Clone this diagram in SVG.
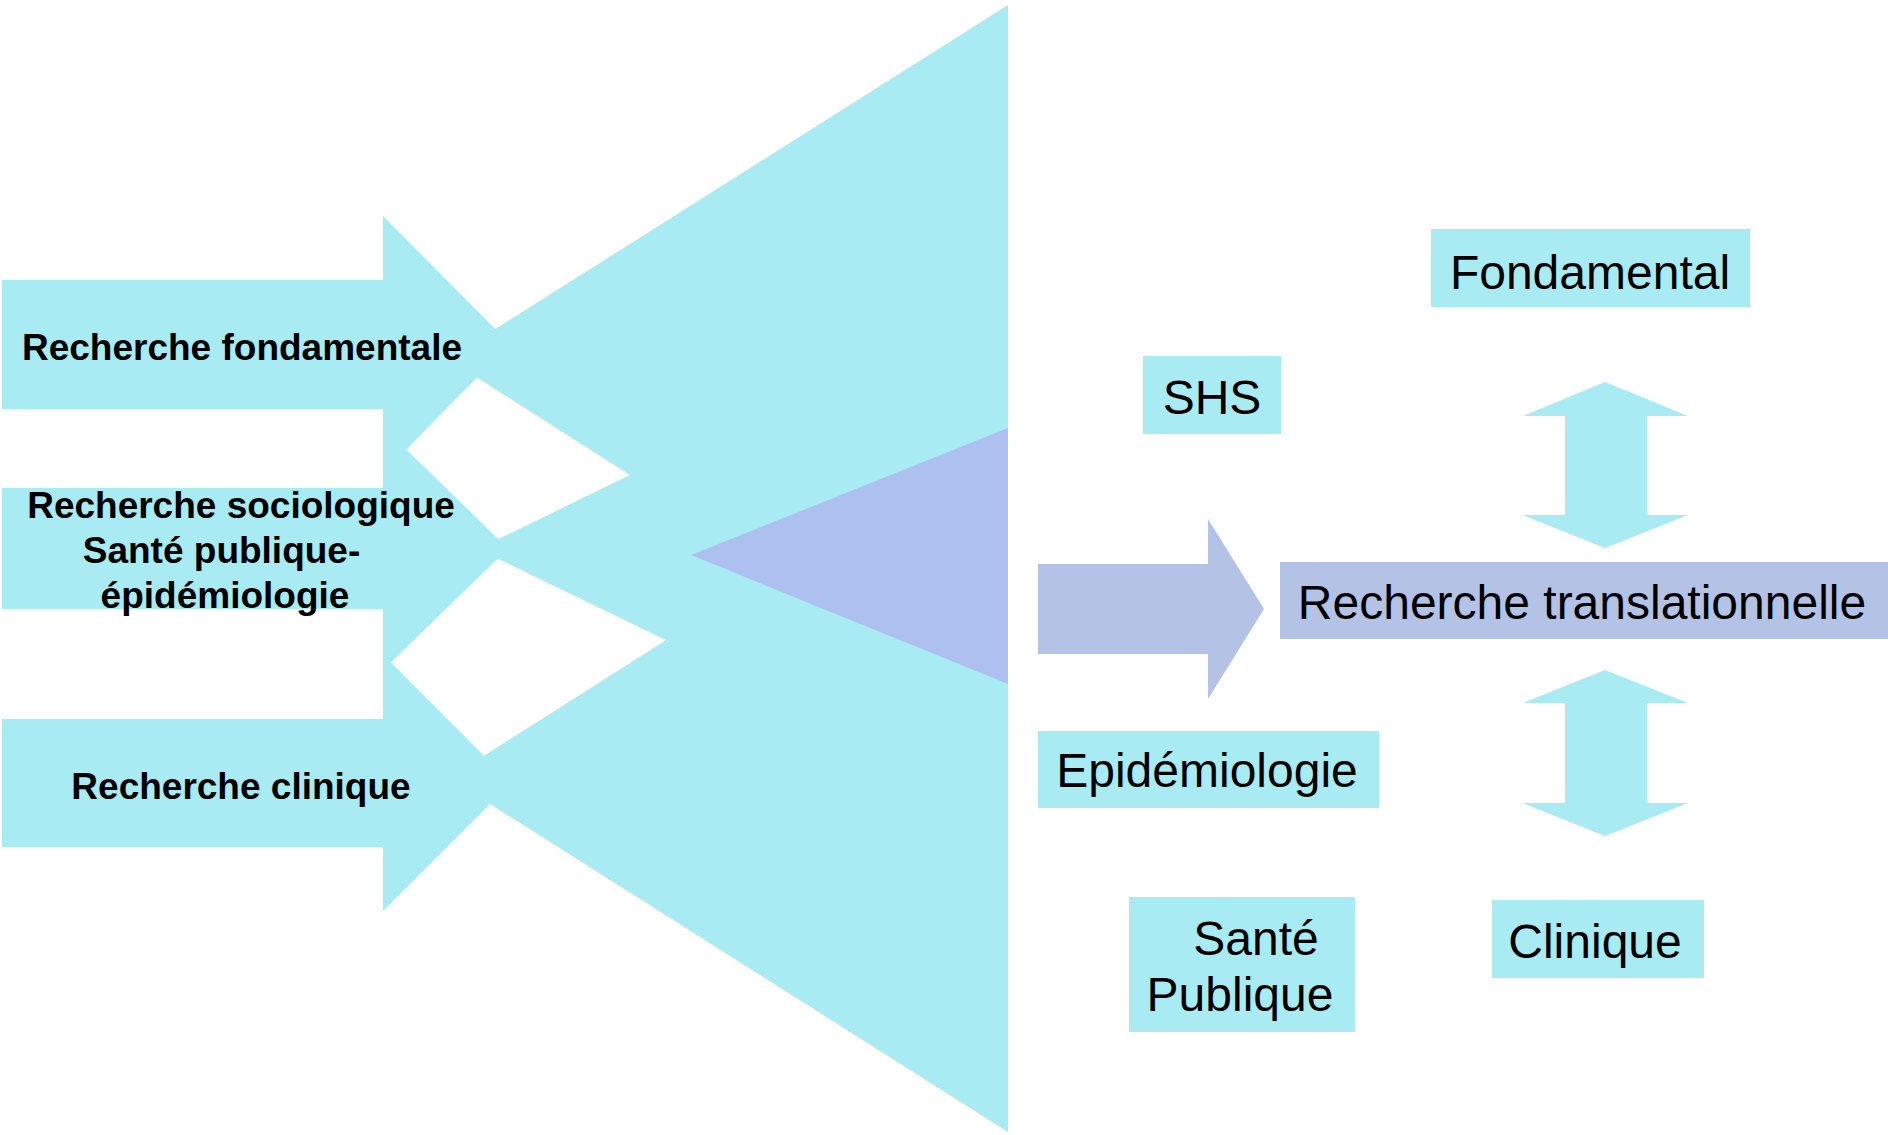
<svg xmlns="http://www.w3.org/2000/svg" width="1888" height="1135" viewBox="0 0 1888 1135">
<style>
.c{fill:#A8EBF3}
.p{fill:#ADC0F0}
.pb{fill:#B4C2E6}
.lb{font-family:"Liberation Sans",Arial,sans-serif;font-weight:bold;font-size:37px;fill:#000;text-anchor:middle}
.rt{font-family:"Liberation Sans",Arial,sans-serif;font-size:48px;fill:#000;text-anchor:middle}
</style>
<rect width="1888" height="1135" fill="#fff"/>
<g id="funnel">
<polygon class="c" points="448,359 1008,5 1008,716"/>
<polygon class="c" points="478,549 1008,291 1008,806"/>
<polygon class="c" points="449,778 1008,423 1008,1132"/>
<polygon class="p" points="691,555 1008,428 1008,684"/>
</g>
<g id="arrow-fondamentale">
<polygon class="c" points="2,280 383,280 383,216 510,344 383,473 383,409 2,409"/>
<text class="lb" x="242" y="360">Recherche fondamentale</text>
</g>
<g id="arrow-sociologique">
<polygon class="c" points="2,488 383,488 383,427 508,548.5 383,670 383,609 2,609"/>
<text class="lb" x="241" y="518">Recherche sociologique</text>
<text class="lb" x="221.5" y="563">Santé publique-</text>
<text class="lb" x="225" y="608">épidémiologie</text>
</g>
<g id="arrow-clinique">
<polygon class="c" points="2,719 383,719 383,654.5 511,783 383,911 383,847 2,847"/>
<text class="lb" x="241" y="799">Recherche clinique</text>
</g>
<g id="node-fondamental">
<rect class="c" x="1431" y="229" width="319" height="78"/>
<text class="rt" x="1590" y="289">Fondamental</text>
</g>
<g id="node-shs">
<rect class="c" x="1143" y="356" width="138" height="78"/>
<text class="rt" x="1212" y="414">SHS</text>
</g>
<g id="node-translationnelle">
<rect class="pb" x="1280" y="562" width="608" height="77"/>
<text class="rt" x="1582" y="619">Recherche translationnelle</text>
</g>
<g id="node-epidemiologie">
<rect class="c" x="1038" y="731" width="341" height="77"/>
<text class="rt" x="1207" y="787">Epidémiologie</text>
</g>
<g id="node-sante-publique">
<rect class="c" x="1129" y="897" width="226" height="135"/>
<text class="rt" x="1256" y="955">Santé</text>
<text class="rt" x="1240" y="1011">Publique</text>
</g>
<g id="node-clinique">
<rect class="c" x="1492" y="900" width="212" height="78"/>
<text class="rt" x="1595" y="958">Clinique</text>
</g>
<g id="connectors">
<polygon class="pb" points="1038,564 1208,564 1208,519 1264,609 1208,699 1208,654 1038,654"/>
<polygon class="c" points="1605,382 1688,416 1647,416 1647,515 1688,515 1605,548 1523,515 1565,515 1565,416 1523,416"/>
<polygon class="c" points="1605,670 1688,703 1647,703 1647,803 1688,803 1605,836 1523,803 1565,803 1565,703 1523,703"/>
</g>
</svg>
